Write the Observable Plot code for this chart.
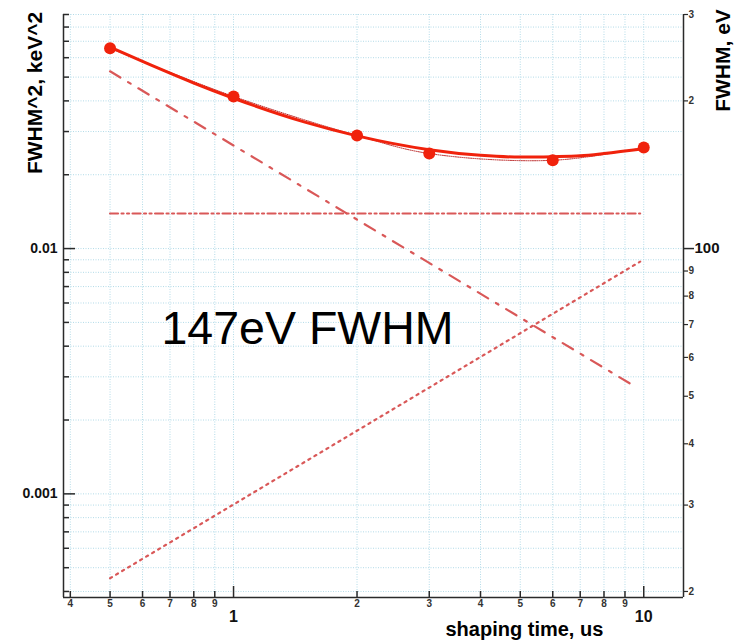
<!DOCTYPE html>
<html><head><meta charset="utf-8">
<script src="https://cdn.jsdelivr.net/npm/d3@7"></script>
<script src="https://cdn.jsdelivr.net/npm/@observablehq/plot@0.6"></script>
<style>body{margin:0;background:#fff;} svg{display:block;}</style>
</head><body><div id="chart"></div>
<script>
// measured points: shaping time (us) vs FWHM^2 (keV^2)
const measT = [0.5, 1, 2, 3, 6, 10];
const measFwhm2 = [0.0655, 0.0417, 0.0289, 0.0244, 0.0229, 0.0258];
// fitted total curve
const fitT = [0.5, 0.6, 0.7, 0.8, 1, 1.5, 2, 3, 4, 5, 6, 7, 8, 10];
const fitFwhm2 = [0.0662, 0.0580, 0.0519, 0.0473, 0.0410, 0.0327, 0.0288, 0.0253, 0.0240, 0.0236, 0.0237, 0.0239, 0.0244, 0.0255];
// components (straight on log-log): endpoints
const seriesT = [0.5, 9.45];
const seriesV = [0.0528, 0.00276];
const flickerT = [0.5, 9.8];
const flickerV = [0.0139, 0.0139];
const parallelT = [0.5, 9.8];
const parallelV = [0.000453, 0.00885];
const annotation = "147eV FWHM";

// axes
const xDomain = [0.385, 12.5];
const yDomain = [0.000378, 0.09];
const xMinorTicks = [0.4, 0.5, 0.6, 0.7, 0.8, 0.9, 2, 3, 4, 5, 6, 7, 8, 9];
const xMinorLabels = ["4", "5", "6", "7", "8", "9", "2", "3", "4", "5", "6", "7", "8", "9"];
const xMajorTicks = [1, 10];
const xMajorLabels = ["1", "10"];
const yMinorTicks = [0.0004, 0.0005, 0.0006, 0.0007, 0.0008, 0.0009, 0.002, 0.003, 0.004, 0.005, 0.006, 0.007, 0.008, 0.009, 0.02, 0.03, 0.04, 0.05, 0.06, 0.07, 0.08, 0.09];
const yMajorTicks = [0.001, 0.01];
const yMajorLabels = ["0.001", "0.01"];
const rightMinorEV = [300, 200, 90, 80, 70, 60, 50, 40, 30, 20];
const rightMinorLabels = ["3", "2", "9", "8", "7", "6", "5", "4", "3", "2"];
const rightMajorEV = [100];
const rightMajorLabels = ["100"];
const leftTitle = "FWHM^2, keV^2";
const rightTitle = "FWHM, eV";
const xTitle = "shaping time, us";

const toK2 = ev => (ev / 1000) ** 2;
const measured = measT.map((t, i) => ({t, v: measFwhm2[i]}));
const fit = fitT.map((t, i) => ({t, v: fitFwhm2[i]}));
const series = seriesT.map((t, i) => ({t, v: seriesV[i]}));
const flicker = flickerT.map((t, i) => ({t, v: flickerV[i]}));
const parallel = parallelT.map((t, i) => ({t, v: parallelV[i]}));
const rMinor = rightMinorEV.map(toK2), rMajor = rightMajorEV.map(toK2);

const gridColor = "#b3dbe8";
const comp = "#d95858";
const red = "#f0220c";
const axisColor = "#2a2a2a";
const none = () => "";

const chart = Plot.plot({
  width: 735, height: 642,
  marginLeft: 63, marginRight: 52, marginTop: 14, marginBottom: 45,
  style: {fontFamily: "'Liberation Sans', Arial, sans-serif", background: "#fff"},
  x: {type: "log", domain: xDomain},
  y: {type: "log", domain: yDomain},
  marks: [
    Plot.gridX([...xMinorTicks, ...xMajorTicks], {stroke: gridColor, strokeOpacity: 1, strokeDasharray: "1,1.5"}),
    Plot.gridY([...yMinorTicks, ...yMajorTicks], {stroke: gridColor, strokeOpacity: 1, strokeDasharray: "1,1.5"}),
    // frame lines
    Plot.ruleX([xDomain[0]], {stroke: axisColor, strokeWidth: 1.5}),
    Plot.ruleX([xDomain[1]], {stroke: axisColor, strokeWidth: 1.5}),
    Plot.ruleY([yDomain[0]], {stroke: axisColor, strokeWidth: 1.5}),
    // left axis: inward ticks
    Plot.axisY(yMinorTicks, {anchor: "left", tickSize: 6, dx: 6, tickFormat: none, color: axisColor, strokeWidth: 1.5, label: null}),
    Plot.axisY(yMajorTicks, {anchor: "left", tickSize: 12, dx: 12, tickFormat: none, color: axisColor, strokeWidth: 1.5, label: null}),
    Plot.text(yMajorTicks, {y: d => d, text: (d, i) => yMajorLabels[i], frameAnchor: "left", dx: -6, textAnchor: "end", lineAnchor: "middle", fontSize: 14, fontWeight: "bold", fill: "#111"}),
    // bottom axis: inward ticks
    Plot.axisX(xMinorTicks, {anchor: "bottom", tickSize: 6, dy: -6, tickFormat: none, color: axisColor, strokeWidth: 1.5, label: null}),
    Plot.axisX(xMajorTicks, {anchor: "bottom", tickSize: 11, dy: -11, tickFormat: none, color: axisColor, strokeWidth: 1.5, label: null}),
    Plot.text(xMinorTicks, {x: d => d, text: (d, i) => xMinorLabels[i], frameAnchor: "bottom", dy: 6, lineAnchor: "middle", fontSize: 10, fontWeight: "bold", fill: "#333"}),
    Plot.text(xMajorTicks, {x: d => d, text: (d, i) => xMajorLabels[i], frameAnchor: "bottom", dy: 19, lineAnchor: "middle", fontSize: 16, fontWeight: "bold", fill: "#111"}),
    // right axis: FWHM in eV, outward ticks
    Plot.axisY(rMinor, {anchor: "right", tickSize: 4, tickFormat: none, color: axisColor, strokeWidth: 1.2, label: null}),
    Plot.axisY(rMajor, {anchor: "right", tickSize: 10, tickFormat: none, color: axisColor, strokeWidth: 1.5, label: null}),
    Plot.text(rMinor, {y: d => d, text: (d, i) => rightMinorLabels[i], frameAnchor: "right", dx: 5, textAnchor: "start", lineAnchor: "middle", fontSize: 10, fontWeight: "bold", fill: "#333"}),
    Plot.text(rMajor, {y: d => d, text: (d, i) => rightMajorLabels[i], frameAnchor: "right", dx: 11, textAnchor: "start", lineAnchor: "middle", fontSize: 15, fontWeight: "bold", fill: "#111"}),
    // component lines
    Plot.line(series, {x: "t", y: "v", stroke: comp, strokeWidth: 2.2, strokeDasharray: "12,9,3,9"}),
    Plot.line(flicker, {x: "t", y: "v", stroke: comp, strokeWidth: 2.2, strokeDasharray: "8,3.5,2,3.5,2,3.5"}),
    Plot.line(parallel, {x: "t", y: "v", stroke: comp, strokeWidth: 2.2, strokeDasharray: "2.2,4.8"}),
    // data connecting line (thin dotted) and fit
    Plot.line(measured, {x: "t", y: "v", curve: "catmull-rom", stroke: "#b82020", strokeWidth: 1, strokeDasharray: "1,1.2"}),
    Plot.line(fit, {x: "t", y: "v", curve: "monotone-x", stroke: red, strokeWidth: 3}),
    Plot.dot(measured, {x: "t", y: "v", r: 6, fill: red, stroke: "none"}),
    // texts
    Plot.text([annotation], {frameAnchor: "top-left", dx: 98, dy: 314.5, textAnchor: "start", lineAnchor: "middle", fontSize: 46.5, fill: "#000"}),
    Plot.text([leftTitle], {frameAnchor: "top-left", dx: -28, dy: 78.5, rotate: -90, textAnchor: "middle", lineAnchor: "middle", fontSize: 21, fontWeight: "bold", fill: "#000"}),
    Plot.text([rightTitle], {frameAnchor: "top-right", dx: 40, dy: 46, rotate: -90, textAnchor: "middle", lineAnchor: "middle", fontSize: 21, fontWeight: "bold", fill: "#000"}),
    Plot.text([xTitle], {frameAnchor: "bottom-left", dx: 382, dy: 31.6, textAnchor: "start", lineAnchor: "middle", fontSize: 20, fontWeight: "bold", fill: "#000"})
  ]
});
document.getElementById("chart").append(chart);
</script>
</body></html>
